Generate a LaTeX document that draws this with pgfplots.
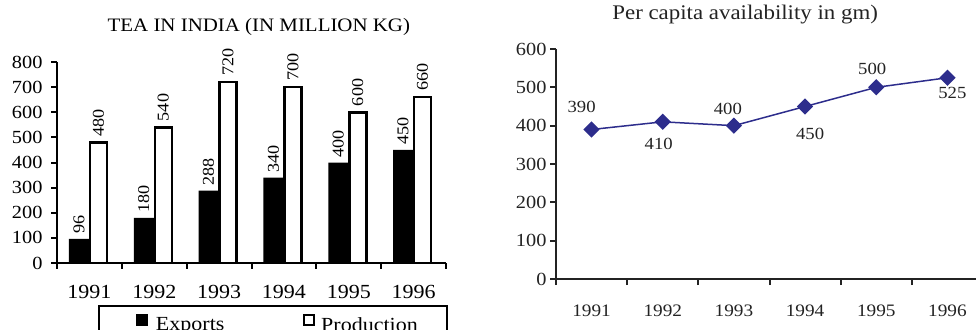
\documentclass[border=0pt]{standalone}
\usepackage{fontspec}
\setmainfont{Liberation Serif}[FakeStretch=1.1]
\usepackage{pgfplots}
\usepackage{pgfplotstable}
\pgfplotsset{compat=1.18}
\definecolor{navy}{RGB}{45,45,140}
\definecolor{txt}{RGB}{35,35,35}

\pgfplotstableread{
x exports production
0 96 480
1 180 540
2 288 720
3 340 700
4 400 600
5 450 660
}\teatable

\pgfplotstableread{
x y dx dy
0 390 -10 23
1 410 -4 -22
2 400 -6 17
3 450 5 -27
4 500 -4 18
5 525 5 -15
}\capita

\begin{document}
\begin{tikzpicture}
\useasboundingbox (0,0) rectangle (976pt,329pt);
\begin{axis}[
  at={(57pt,66pt)}, anchor=south west, scale only axis,
  width=389pt, height=201pt,
  xmin=-0.5, xmax=5.5, ymin=0, ymax=800,
  axis x line=bottom, axis y line=left,
  axis line style={-, line width=2.5pt, black},
  xtick={0,...,5}, xticklabels={1991,1992,1993,1994,1995,1996},
  minor xtick={-0.5,0.5,...,5.5},
  ytick={0,100,...,800},
  tick align=outside, major tick length=6pt, minor tick length=6pt,
  tick style={line width=2pt, black},
  major x tick style={draw=none},
  yticklabel style={font=\fontsize{18.5}{20}\selectfont, black, xshift=-5pt},
  xticklabel style={font=\fontsize{20}{22}\selectfont, black, yshift=-13pt},
  /pgf/number format/assume math mode=true,
  title={TEA IN INDIA (IN MILLION KG)},
  title style={at={(0.519,1)}, anchor=base, yshift=25pt, font=\fontsize{19}{21}\selectfont},
  legend columns=2,
  legend cell align=left,
  legend style={at={(0.1054,-0.209)}, anchor=north west, draw=black, line width=2pt,
    font=\fontsize{20}{22}\selectfont, inner xsep=37pt, inner ysep=8pt,
    nodes={inner xsep=3pt}},
]
\addplot[ybar, bar width=20pt, bar shift=-10.5pt, fill=black, draw=none,
  nodes near coords,
  nodes near coords style={xshift=-10.5pt, rotate=90, anchor=west, inner sep=5pt, font=\fontsize{16.5}{18}\selectfont, black},
  legend image code/.code={\fill[black] (0pt,-1pt) rectangle (12pt,11pt); \path (17pt,0pt);}]
  table[x=x, y=exports] {\teatable};
\addlegendentry{\makebox[144pt][l]{Exports}}
\addplot[ybar, bar width=17pt, bar shift=9pt, fill=white, draw=black, line width=2.5pt,
  nodes near coords,
  nodes near coords style={xshift=9pt, rotate=90, anchor=west, inner sep=5pt, font=\fontsize{16.5}{18}\selectfont, black},
  legend image code/.code={\draw[black, line width=2pt, fill=white] (1pt,0pt) rectangle (11pt,10pt); \path (14pt,0pt);}]
  table[x=x, y=production] {\teatable};
\addlegendentry{\makebox[86pt][l]{Production}}
\end{axis}

\begin{axis}[
  at={(556pt,50pt)}, anchor=south west, scale only axis,
  width=427pt, height=230pt,
  xmin=-0.5, xmax=5.5, ymin=0, ymax=600,
  axis x line=bottom, axis y line=left,
  axis line style={-, line width=2.5pt, txt},
  xtick={0,...,5}, xticklabels={1991,1992,1993,1994,1995,1996},
  minor xtick={-0.5,0.5,...,5.5},
  ytick={0,100,...,600},
  tick align=outside, major tick length=6pt, minor tick length=6pt,
  tick style={line width=2pt, txt},
  major x tick style={draw=none},
  yticklabel style={font=\fontsize{18.5}{20}\selectfont, txt},
  xticklabel style={font=\fontsize{17.5}{20}\selectfont, txt, yshift=-16pt},
  /pgf/number format/assume math mode=true,
  title={Per capita availability in gm)},
  title style={at={(0.443,1)}, anchor=base, yshift=23pt, font=\fontsize{20.8}{23}\selectfont, txt},
]
\addplot[navy, line width=1.5pt, mark=square*, mark size=5pt,
  mark options={rotate=45, fill=navy, draw=navy},
  nodes near coords, point meta=explicit,
  visualization depends on={\thisrow{dx} \as \dx},
  visualization depends on={\thisrow{dy} \as \dy},
  nodes near coords style={anchor=center, xshift=\dx pt, yshift=\dy pt, font=\fontsize{17}{19}\selectfont, txt}]
  table[x=x, y=y, meta=y] {\capita};
\end{axis}
\end{tikzpicture}
\end{document}
